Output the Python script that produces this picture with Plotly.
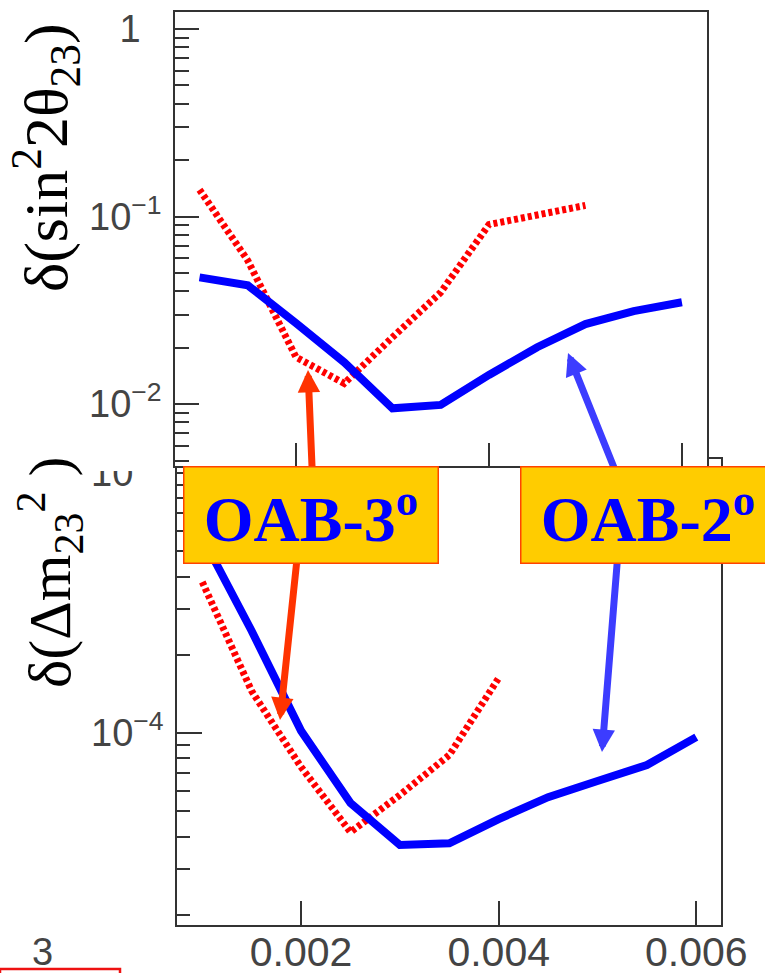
import plotly.graph_objects as go

W, H = 765, 973

# ---------------- data ----------------
x_oab2 = [0.001, 0.0015, 0.002, 0.0025, 0.003, 0.0035, 0.004, 0.0045, 0.005, 0.0055, 0.006]
x_oab3_sin = [0.001, 0.0015, 0.002, 0.0025, 0.003, 0.0035, 0.004, 0.0045, 0.005]
x_oab3_dm = [0.001, 0.0015, 0.002, 0.0025, 0.003, 0.0035, 0.004]

sin_oab2 = [0.0474, 0.043, 0.027, 0.0167, 0.0095, 0.0099, 0.0143, 0.0201, 0.0267, 0.0313, 0.0349]
sin_oab3 = [0.139, 0.0583, 0.0178, 0.0129, 0.0227, 0.0394, 0.0906, 0.1025, 0.1146]

dm_oab2 = [5.67e-4, 2.47e-4, 1.02e-4, 5.38e-5, 3.71e-5, 3.77e-5, 4.67e-5, 5.67e-5, 6.54e-5, 7.54e-5, 9.65e-5]
dm_oab3 = [3.81e-4, 1.45e-4, 7.4e-5, 4.16e-5, 5.78e-5, 8.23e-5, 1.63e-4]

x_tickvals = [0.002, 0.004, 0.006]
x_ticktext = ["0.002", "0.004", "0.006"]
sin_tickvals = [1, 0.1, 0.01]
sin_ticktext = ["1\u00a0\u00a0", "10<sup>\u22121</sup>", "10<sup>\u22122</sup>"]
dm_tickvals = [1e-3, 1e-4]
dm_ticktext = ["10<sup>\u22123</sup>", "10<sup>\u22124</sup>"]

label_oab3 = "OAB-3<sup>o</sup>"
label_oab2 = "OAB-2<sup>o</sup>"
title_sin = "\u03b4(sin<sup>2</sup>2\u03b8<sub>23</sub>)"
title_dm = "\u03b4(\u0394m<sub>23</sub><sup>2</sup> )"


def minors(lo, hi):
    out = []
    for e in range(lo, hi + 1):
        for k in range(2, 10):
            out.append(k * 10.0 ** e)
    return out


def px(x):
    return x / W


def py(y):
    return 1 - y / H


BLUE = "#0000ff"
RED = "#ff0000"
AX = "#333333"
tickfont_y = dict(family="Liberation Sans", size=38, color="#444444")
tickfont_x = dict(family="Liberation Sans", size=41, color="#444444")

fig = go.Figure()

# bottom panel (xy) : delta(dm^2)
fig.add_trace(go.Scatter(x=x_oab3_dm, y=dm_oab3, mode="lines", xaxis="x", yaxis="y",
                         line=dict(color=RED, width=7, dash="4px,3px"), showlegend=False))
fig.add_trace(go.Scatter(x=x_oab2, y=dm_oab2, mode="lines", xaxis="x", yaxis="y",
                         line=dict(color=BLUE, width=8), showlegend=False))
# top panel (x2y2) : delta(sin^2 2theta)
fig.add_trace(go.Scatter(x=x_oab3_sin, y=sin_oab3, mode="lines", xaxis="x2", yaxis="y2",
                         line=dict(color=RED, width=7, dash="4px,3px"), showlegend=False))
fig.add_trace(go.Scatter(x=x_oab2, y=sin_oab2, mode="lines", xaxis="x2", yaxis="y2",
                         line=dict(color=BLUE, width=8), showlegend=False))

common = dict(showgrid=False, zeroline=False, showline=True, linecolor=AX, linewidth=1.5,
              mirror=True, ticks="inside", tickcolor=AX, tickwidth=1.5, automargin=False)

fig.update_layout(
    width=W, height=H, autosize=False,
    margin=dict(l=0, r=0, t=0, b=0, pad=0, autoexpand=False),
    paper_bgcolor="white", plot_bgcolor="white",
    showlegend=False,
    xaxis=dict(domain=[px(177), px(721)], range=[0.000744, 0.00625], anchor="y",
               tickmode="array", tickvals=x_tickvals, ticktext=x_ticktext, ticklen=24,
               tickfont=tickfont_x, ticklabelstandoff=-10, **common),
    yaxis=dict(domain=[py(925), py(459)], type="log", range=[-4.738, -2.946], anchor="x",
               tickmode="array", tickvals=dm_tickvals, ticktext=dm_ticktext, ticklen=25,
               tickfont=tickfont_y, ticklabelstandoff=4,
               minor=dict(tickmode="array", tickvals=minors(-5, -3), ticks="inside",
                          ticklen=13, tickwidth=1.5, tickcolor=AX),
               **common),
    xaxis2=dict(domain=[px(175), px(707)], range=[0.000746, 0.00626], anchor="y2",
                tickmode="array", tickvals=x_tickvals, ticklen=23, showticklabels=False,
                **common),
    yaxis2=dict(domain=[py(466), py(12)], type="log", range=[-2.33, 0.0904], anchor="x2",
                tickmode="array", tickvals=sin_tickvals, ticktext=sin_ticktext, ticklen=24,
                tickfont=tickfont_y, ticklabelstandoff=4,
                minor=dict(tickmode="array", tickvals=minors(-3, -1), ticks="inside",
                           ticklen=14, tickwidth=1.5, tickcolor=AX),
                **common),
)

# white cover hiding the upper part of the 10^-3 label (overlapped by the upper panel)
shapes = [
    dict(type="rect", xref="paper", yref="paper", x0=px(80), x1=px(172), y0=py(471), y1=py(425),
         fillcolor="white", line=dict(width=0), layer="above"),
    dict(type="rect", xref="paper", yref="paper", x0=px(0), x1=px(120), y0=py(990), y1=py(969),
         fillcolor="rgba(0,0,0,0)", line=dict(color="#ee1111", width=2.5), layer="above"),
]
fig.update_layout(shapes=shapes)

annotations = []


def arrow(tail, tip, color, width=7, size=0.64):
    tx, ty = tip
    sx, sy = tail
    annotations.append(dict(xref="paper", yref="paper", x=px(tx), y=py(ty),
                            ax=sx - tx, ay=sy - ty, text="", showarrow=True,
                            arrowhead=2, arrowsize=size, arrowwidth=width, arrowcolor=color,
                            standoff=0, startstandoff=0))


RED_ARROW = "#ff3300"
BLUE_ARROW = "#3c3cff"
arrow((313, 490), (308, 370), RED_ARROW)
arrow((299, 540), (280, 720), RED_ARROW)
arrow((623, 490), (568, 353), BLUE_ARROW)
arrow((619, 540), (602, 752), BLUE_ARROW)

boxfont = dict(family="Liberation Serif", size=64, color="#0000ff", weight="bold")
for label, cx in ((label_oab3, (183 + 438) / 2), (label_oab2, (520 + 775) / 2)):
    annotations.append(dict(xref="paper", yref="paper", x=px(cx), y=py((466 + 563) / 2),
                            xanchor="center", yanchor="middle", text=label, showarrow=False,
                            width=253, height=95, bgcolor="#ffcc00", bordercolor="#ff4400",
                            borderwidth=1.5, borderpad=0, font=boxfont))

titlefont = dict(family="Liberation Serif", size=62, color="black")
annotations.append(dict(xref="paper", yref="paper", x=px(45), y=py(158), text=title_sin,
                        textangle=-90, showarrow=False, xanchor="center", yanchor="middle",
                        font=titlefont))
annotations.append(dict(xref="paper", yref="paper", x=px(50), y=py(572), text=title_dm,
                        textangle=-90, showarrow=False, xanchor="center", yanchor="middle",
                        font=dict(family="Liberation Serif", size=60, color="black")))
annotations.append(dict(xref="paper", yref="paper", x=px(42), y=py(952), text="3",
                        showarrow=False, xanchor="center", yanchor="middle",
                        font=dict(family="Liberation Sans", size=38, color="#444444")))

fig.update_layout(annotations=annotations)

fig.write_html("out.html",
               config={"displayModeBar": False},
               post_script="document.body.style.margin='0px';document.body.style.overflow='hidden';")
